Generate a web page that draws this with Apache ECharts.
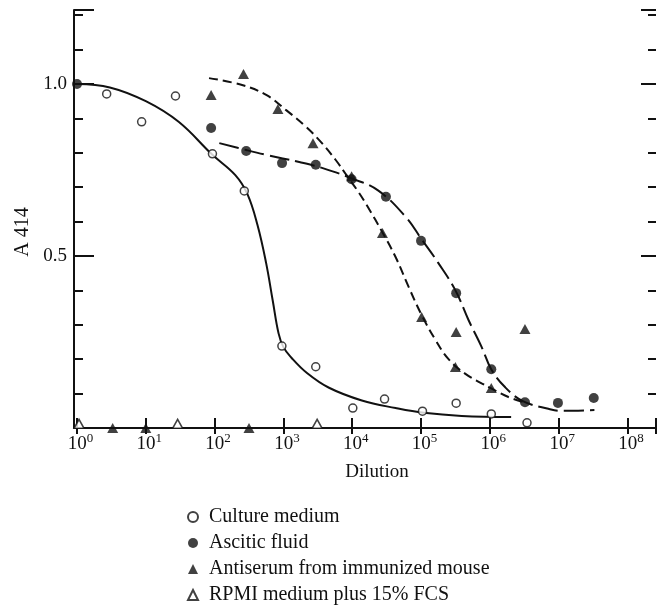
<!DOCTYPE html>
<html>
<head>
<meta charset="utf-8">
<script src="https://cdn.jsdelivr.net/npm/echarts@6/dist/echarts.min.js"></script>
<style>html,body{margin:0;padding:0;background:#fff;}#c{width:659px;height:607px;}</style>
</head>
<body>
<div id="c"></div>
<script>
// ---- data (dilution, A414) ----
const cultureX = [2.7, 8.7, 27, 93, 270, 950, 2950, 10200, 29500, 105000, 324000, 1050000, 3470000];
const cultureY = [0.971, 0.89, 0.965, 0.797, 0.689, 0.238, 0.178, 0.058, 0.084, 0.049, 0.072, 0.041, 0.015];

const asciticX = [1, 89, 288, 955, 2950, 9800, 30900, 100000, 324000, 1050000, 3240000, 9770000, 32400000];
const asciticY = [1.0, 0.872, 0.805, 0.770, 0.765, 0.723, 0.672, 0.544, 0.392, 0.171, 0.075, 0.073, 0.087];

const antiserumX = [3.3, 10, 316, 89, 263, 832, 2690, 9800, 27500, 102000, 324000, 316000, 1050000, 3240000];
const antiserumY = [0, 0, 0, 0.968, 1.029, 0.927, 0.828, 0.732, 0.567, 0.323, 0.279, 0.177, 0.116, 0.288];

const rpmiX = [1.07, 29, 3090];
const rpmiY = [0.012, 0.012, 0.012];

// hand-drawn fitted curves
const cultureFitX = [1, 3, 10, 30, 93, 200, 300, 420, 560, 700, 850, 1000, 1300, 2200, 4600, 13800, 42700, 110000, 390000, 2040000];
const cultureFitY = [1.0, 0.99, 0.95, 0.89, 0.794, 0.735, 0.680, 0.590, 0.480, 0.370, 0.275, 0.235, 0.205, 0.160, 0.117, 0.080, 0.058, 0.044, 0.035, 0.032];

const asciticFitX = [117, 288, 562, 1698, 3631, 10000, 23990, 60260, 102300, 177800, 316200, 489800, 758600, 1047000, 1660000, 3020000, 7080000, 10700000, 33100000];
const asciticFitY = [0.828, 0.808, 0.794, 0.773, 0.756, 0.725, 0.690, 0.613, 0.548, 0.48, 0.40, 0.314, 0.236, 0.171, 0.119, 0.078, 0.056, 0.050, 0.052];

const antiserumFitX = [83, 251, 562, 1096, 2138, 3631, 5754, 8128, 12590, 17380, 26920, 42660, 66070, 102300, 162200, 251200, 436500, 758600, 1047000, 1862000, 3020000];
const antiserumFitY = [1.017, 0.997, 0.968, 0.924, 0.875, 0.828, 0.779, 0.737, 0.683, 0.638, 0.572, 0.497, 0.410, 0.328, 0.256, 0.200, 0.158, 0.130, 0.115, 0.090, 0.076];

const legendNames = ['Culture medium', 'Ascitic fluid', 'Antiserum from immunized mouse', 'RPMI medium plus 15% FCS'];
const yLabels = {0.5: '0.5', 1: '1.0'};

// ---- chart ----
const INK = '#111';
const SERIF = '"Liberation Serif", "DejaVu Serif", serif';
const zip = (xs, ys) => xs.map((x, i) => [x, ys[i]]);

const X_MIN = 1, X_MAX = 2.6e8, Y_MAX = 1.215;

function xLabel(v) {
  const l = Math.log10(v);
  const e = Math.round(l);
  if (Math.abs(l - e) > 1e-6) return '';
  return '{p|}{b|10}{s|' + e + '}';
}

const chart = echarts.init(document.getElementById('c'), null, {renderer: 'canvas'});
chart.setOption({
  animation: false,
  backgroundColor: '#fff',
  grid: {left: 77, right: 0, top: 10, bottom: 179, containLabel: false},
  xAxis: [
    {
      type: 'log', logBase: 10, min: X_MIN, max: X_MAX, position: 'bottom',
      axisLine: {show: true, lineStyle: {color: INK, width: 2}},
      axisTick: {show: true, inside: true, length: 10, lineStyle: {color: INK, width: 2}},
      axisLabel: {
        show: true, margin: 4, formatter: xLabel, color: INK,
        rich: {
          p: {width: 7},
          b: {fontSize: 19, fontFamily: SERIF, color: INK},
          s: {fontSize: 13, fontFamily: SERIF, color: INK, padding: [0, 0, 12, 0]}
        }
      },
      splitLine: {show: false}, minorTick: {show: false}
    },
    {
      type: 'log', logBase: 10, min: X_MIN, max: X_MAX, position: 'top',
      axisLine: {show: true, lineStyle: {color: INK, width: 2}},
      axisTick: {show: true, inside: true, length: 6, lineStyle: {color: INK, width: 2}},
      axisLabel: {show: false},
      splitLine: {show: false}
    }
  ],
  yAxis: [
    {
      type: 'value', min: 0, max: Y_MAX, interval: 0.1, position: 'left', offset: 3,
      axisLine: {show: true, lineStyle: {color: INK, width: 2}},
      axisTick: {show: true, inside: true, length: 9, lineStyle: {color: INK, width: 2}},
      axisLabel: {show: false}, splitLine: {show: false}
    },
    {
      type: 'value', min: 0, max: Y_MAX, interval: 0.5, position: 'left', offset: 3,
      axisLine: {show: false},
      axisTick: {show: true, inside: true, length: 20, lineStyle: {color: INK, width: 2}},
      axisLabel: {
        show: true, margin: 7, color: INK, fontSize: 19, fontFamily: SERIF,
        formatter: v => yLabels[v] || ''
      },
      splitLine: {show: false}
    },
    {
      type: 'value', min: 0, max: Y_MAX, interval: 0.1, position: 'right',
      axisLine: {show: false},
      axisTick: {show: true, inside: true, length: 8, lineStyle: {color: INK, width: 2}},
      axisLabel: {show: false}, splitLine: {show: false}
    },
    {
      type: 'value', min: 0, max: Y_MAX, interval: 0.5, position: 'right',
      axisLine: {show: false},
      axisTick: {show: true, inside: true, length: 15, lineStyle: {color: INK, width: 2}},
      axisLabel: {show: false}, splitLine: {show: false}
    }
  ],
  legend: {
    orient: 'vertical', left: 187, top: 507, padding: 0, itemGap: 6, itemWidth: 10, itemHeight: 10,
    height: 120,
    data: legendNames, selectedMode: false,
    textStyle: {fontSize: 20, fontFamily: SERIF, color: INK, lineHeight: 20, padding: [0, 0, 0, 6]}
  },
  graphic: [
    {type: 'text', x: 23, y: 232, rotation: Math.PI / 2,
     style: {text: 'A 414', font: '20px ' + SERIF, fill: INK, textAlign: 'center', textVerticalAlign: 'middle'}},
    {type: 'text', x: 377, y: 472,
     style: {text: 'Dilution', font: '19px ' + SERIF, fill: INK, textAlign: 'center', textVerticalAlign: 'middle'}}
  ],
  series: [
    {name: 'culture-fit', type: 'line', data: zip(cultureFitX, cultureFitY), smooth: 0.4,
     showSymbol: false, symbol: 'none', lineStyle: {color: INK, width: 2}, z: 2, silent: true},
    {name: 'ascitic-fit', type: 'line', data: zip(asciticFitX, asciticFitY), smooth: 0.4,
     showSymbol: false, symbol: 'none', lineStyle: {color: INK, width: 2, type: [20, 6]}, z: 2, silent: true},
    {name: 'antiserum-fit', type: 'line', data: zip(antiserumFitX, antiserumFitY), smooth: 0.4,
     showSymbol: false, symbol: 'none', lineStyle: {color: INK, width: 2, type: [9, 5]}, z: 2, silent: true},
    {name: legendNames[0], type: 'scatter', data: zip(cultureX, cultureY), symbol: 'circle', symbolSize: 8,
     itemStyle: {color: '#fff', borderColor: INK, borderWidth: 1.5}, z: 5},
    {name: legendNames[1], type: 'scatter', data: zip(asciticX, asciticY), symbol: 'circle', symbolSize: 10,
     itemStyle: {color: INK, borderColor: INK, borderWidth: 0}, z: 5},
    {name: legendNames[2], type: 'scatter', data: zip(antiserumX, antiserumY), symbol: 'triangle', symbolSize: [11, 10],
     itemStyle: {color: INK, borderColor: INK, borderWidth: 0}, z: 5},
    {name: legendNames[3], type: 'scatter', data: zip(rpmiX, rpmiY), symbol: 'triangle', symbolSize: [10, 9],
     itemStyle: {color: '#fff', borderColor: INK, borderWidth: 1.5}, z: 5}
  ]
});
</script>
</body>
</html>
